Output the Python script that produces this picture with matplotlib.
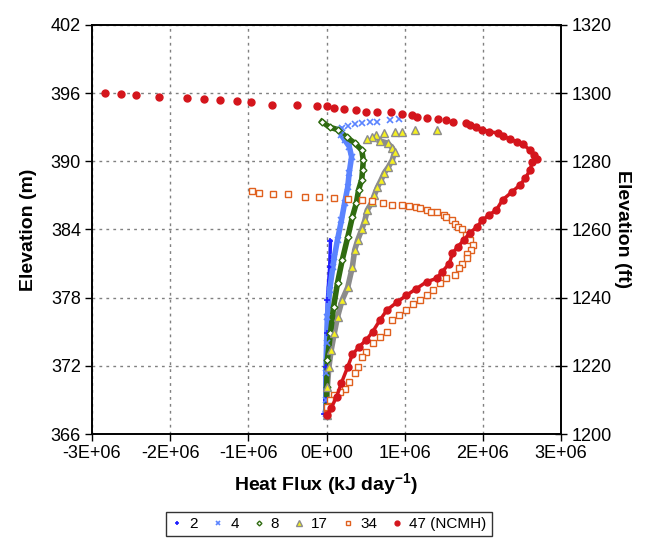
import numpy as np
import matplotlib.pyplot as plt
from matplotlib.ticker import FuncFormatter, MultipleLocator

plt.rcParams['font.family'] = ['Liberation Sans', 'DejaVu Sans']
plt.rcParams['mathtext.fontset'] = 'custom'
plt.rcParams['mathtext.bf'] = 'Liberation Sans:bold'
plt.rcParams['mathtext.rm'] = 'Liberation Sans'

# heat flux in 1E+06 kJ/day, elevation in m
x2 = [0.05, 0.04, 0.01, 0.0, -0.01, -0.01, -0.03]
y2 = [383.0, 380.7, 377.8, 374.9, 371.9, 369.0, 367.8]

x4 = [0.92, 0.81, 0.65, 0.56, 0.45, 0.36, 0.27, 0.20, 0.17, 0.19, 0.23, 0.29, 0.32, 0.29,
      0.27, 0.23, 0.19, 0.14, 0.10, 0.08, 0.04, 0.01, 0.0, -0.01, -0.01, -0.01]
y4 = [393.7, 393.6, 393.5, 393.5, 393.4, 393.3, 393.1, 392.9, 392.8, 392.3, 391.9, 391.3, 390.4, 389.0,
      387.7, 386.3, 384.8, 383.1, 381.6, 380.7, 378.7, 376.3, 374.0, 371.4, 369.0, 367.8]

x8 = [-0.06, 0.04, 0.14, 0.26, 0.36, 0.45, 0.47, 0.46, 0.45, 0.41, 0.38, 0.33, 0.27, 0.20,
      0.14, 0.09, 0.05, 0.01, 0.0, 0.0]
y8 = [393.5, 393.0, 392.8, 392.1, 391.6, 391.0, 390.1, 389.2, 388.4, 387.5, 386.3, 385.1, 383.3, 381.3,
      379.3, 377.2, 374.9, 372.5, 370.1, 368.1]

x17 = [1.41, 1.13, 0.97, 0.87, 0.73, 0.63, 0.58, 0.52, 0.68, 0.78, 0.84, 0.87, 0.84, 0.79, 0.74,
       0.70, 0.65, 0.61, 0.58, 0.52, 0.49, 0.45, 0.40, 0.36, 0.33, 0.27, 0.20, 0.14, 0.10, 0.06,
       0.03, 0.01, 0.0, 0.0]
y17 = [392.8, 392.8, 392.6, 392.6, 392.5, 392.3, 392.1, 392.0, 391.8, 391.6, 391.2, 390.8, 390.1, 389.5, 389.0,
       388.4, 387.7, 387.0, 386.4, 385.7, 384.8, 384.0, 383.1, 382.2, 380.7, 378.9, 377.8, 376.3, 374.9, 373.4,
       371.9, 370.1, 368.4, 367.7]

x34 = [-0.95, -0.86, -0.68, -0.49, -0.27, -0.10, 0.09, 0.27, 0.45, 0.58, 0.72, 0.84, 0.97, 1.06,
       1.14, 1.19, 1.28, 1.34, 1.41, 1.50, 1.53, 1.60, 1.64, 1.68, 1.73, 1.78, 1.83, 1.87, 1.85,
       1.80, 1.79, 1.73, 1.70, 1.64, 1.53, 1.45, 1.36, 1.28, 1.19, 1.10, 1.02, 0.93, 0.84, 0.77,
       0.68, 0.59, 0.51, 0.45, 0.40, 0.36, 0.29, 0.23, 0.17, 0.10, 0.04, 0.0, 0.0]
y34 = [387.4, 387.2, 387.1, 387.1, 386.9, 386.9, 386.8, 386.7, 386.6, 386.5, 386.3, 386.2, 386.2, 386.1,
       386.0, 385.9, 385.7, 385.5, 385.5, 385.3, 385.1, 384.8, 384.5, 384.2, 384.0, 383.5, 383.1, 382.6, 382.2,
       381.8, 381.5, 381.0, 380.6, 380.0, 379.7, 379.3, 378.7, 378.2, 377.8, 377.4, 376.9, 376.5, 376.0, 375.0,
       374.5, 374.0, 373.2, 372.8, 371.9, 371.4, 370.6, 370.0, 369.7, 369.4, 369.0, 368.4, 367.8]

x47 = [-2.83, -2.63, -2.44, -2.14, -1.78, -1.57, -1.36, -1.15, -0.96, -0.70, -0.38, -0.12, 0.0, 0.10,
       0.22, 0.38, 0.50, 0.65, 0.82, 0.96, 1.09, 1.16, 1.29, 1.43, 1.53, 1.62, 1.78, 1.83, 1.91,
       1.99, 2.08, 2.19, 2.25, 2.34, 2.43, 2.51, 2.60, 2.65, 2.69, 2.63, 2.60, 2.54, 2.47, 2.37,
       2.25, 2.17, 2.08, 1.99, 1.92, 1.83, 1.76, 1.68, 1.61, 1.57, 1.48, 1.41, 1.28, 1.15, 1.02,
       0.90, 0.77, 0.68, 0.59, 0.51, 0.42, 0.33, 0.27, 0.19, 0.13, 0.06, 0.01]
y47 = [396.0, 395.9, 395.8, 395.7, 395.6, 395.5, 395.4, 395.3, 395.2, 395.0, 395.0, 394.9, 394.9, 394.7,
       394.6, 394.5, 394.3, 394.3, 394.3, 394.2, 394.1, 393.9, 393.8, 393.7, 393.6, 393.5, 393.4, 393.2, 393.0,
       392.8, 392.6, 392.5, 392.2, 392.0, 391.7, 391.5, 391.0, 390.6, 390.2, 389.9, 389.2, 388.5, 387.9, 387.3,
       386.6, 385.7, 385.3, 384.8, 384.2, 383.7, 383.1, 382.5, 381.9, 381.0, 380.3, 379.7, 379.4, 378.8, 378.2,
       377.6, 376.9, 376.0, 375.0, 374.3, 373.7, 373.0, 371.9, 370.5, 369.3, 368.3, 367.7]

fig = plt.figure(figsize=(6.45, 5.43), dpi=100)
ax = fig.add_axes([0.1426, 0.2007, 0.7274, 0.7533])

sc = 1e6
# dense runs of points drawn as a band underneath the markers
ax.plot(np.array(x2) * sc, y2, color='#1f1fff', lw=2.5, zorder=2)
ax.plot(np.array(x4[8:]) * sc, y4[8:], color='#5b84ff', lw=4, zorder=2)
ax.plot(np.array(x8) * sc, y8, color='#2f6b10', lw=4, zorder=3)
ax.plot(np.array(x17[8:]) * sc, y17[8:], color='#8c8c8c', lw=4, zorder=2)
ax.plot(np.array(x47[26:]) * sc, y47[26:], color='#d4151c', lw=2.5, zorder=6)

ax.plot(np.array(x2) * sc, y2, ls='none', marker='+', ms=5, mew=1.2, color='#1f1fff', label='2', zorder=4)
ax.plot(np.array(x4) * sc, y4, ls='none', marker='x', ms=4.5, mew=1.2, color='#5b84ff', label='4', zorder=4)
ax.plot(np.array(x8) * sc, y8, ls='none', marker='D', ms=3.5, mew=1, mfc='white', mec='#2f6b10',
        label='8', zorder=4)
ax.plot(np.array(x17) * sc, y17, ls='none', marker='^', ms=5.5, mew=1, mfc='#f5f020', mec='#8c8c8c',
        label='17', zorder=4)
ax.plot(np.array(x34) * sc, y34, ls='none', marker='s', ms=5, mew=1, mfc='white', mec='#e0601e',
        label='34', zorder=5)
ax.plot(np.array(x47) * sc, y47, ls='none', marker='o', ms=5, color='#d4151c', label='47 (NCMH)', zorder=6)

ax.set_xlim(-3e6, 3e6)
ax.set_ylim(366, 402)
ax.xaxis.set_major_locator(MultipleLocator(1e6))
ax.yaxis.set_major_locator(MultipleLocator(6))
ax.xaxis.set_major_formatter(FuncFormatter(lambda v, p: f'{v:.0E}'))
ax.grid(True, color='#808080', ls=(0, (2, 3)), lw=1)
ax.tick_params(direction='out', length=5, width=1, labelsize=13, color='black', pad=3)
ax.set_xlabel(r'Heat Flux (kJ day$^{\mathbf{-1}}$)', fontsize=14, fontweight='bold')
ax.set_ylabel('Elevation (m)', fontsize=14, fontweight='bold')
ax.xaxis.set_label_coords(0.5, -0.092)
ax.yaxis.set_label_coords(-0.118, 0.5)
for s in ax.spines.values():
    s.set_linewidth(1.2)

ax2 = ax.twinx()
ax2.set_ylim(1200, 1320)
ax2.yaxis.set_major_locator(MultipleLocator(20))
ax2.tick_params(direction='inout', length=9, width=1, labelsize=13, pad=3)
ax2.set_ylabel('Elevation (ft)', fontsize=14, fontweight='bold', rotation=270, va='bottom')
ax2.yaxis.set_label_coords(1.113, 0.5)
for s in ax2.spines.values():
    s.set_linewidth(1.2)

leg = fig.legend(loc='upper center', bbox_to_anchor=(0.51, 0.072), ncol=6, fontsize=11,
                 frameon=True, fancybox=False, edgecolor='black', handlelength=0.8,
                 handletextpad=0.4, columnspacing=0.9, borderpad=0.35, markerscale=0.7)
leg.get_frame().set_linewidth(1)

fig.savefig('out.png', dpi=100)
